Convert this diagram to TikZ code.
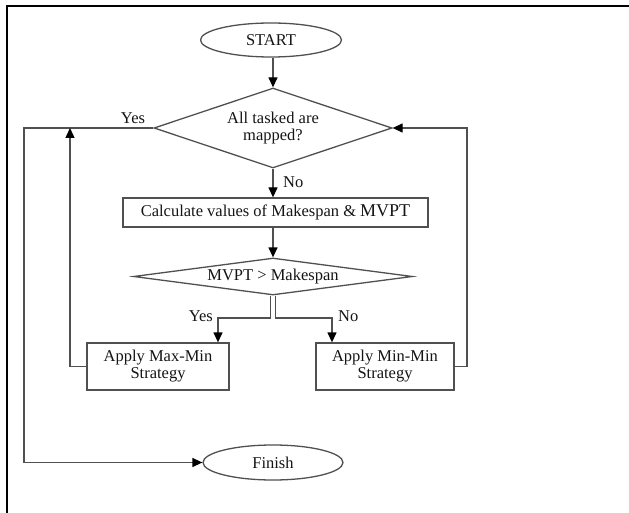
\documentclass[tikz,border=0pt]{standalone}
\usepackage{fontspec}
\setmainfont{Liberation Serif}
\usetikzlibrary{shapes.geometric,arrows.meta}
\definecolor{linegray}{HTML}{505050}
\definecolor{textgray}{HTML}{141414}
\begin{document}
\begin{tikzpicture}[x=1pt,y=-1pt,
  every node/.style={font=\fontsize{16.5}{17}\selectfont, text=textgray},
  flow/.style={draw=linegray, line width=1.3pt},
  arr/.style={flow, -{Triangle[length=10pt,width=9pt,color=black]}},
  term/.style={flow, ellipse, inner sep=0pt, minimum width=141pt, minimum height=34pt},
  stepbox/.style={flow, rectangle, inner sep=0pt, align=center},
  decision/.style={flow, diamond, inner sep=0pt, align=center},
  lbl/.style={inner sep=0pt}]
  % canvas and page frame
  \useasboundingbox (0,0) rectangle (629,513);
  \draw[black, line width=2pt] (6.5,513) -- (6.5,6.5) -- (629,6.5);

  % nodes
  \node[term] (start) at (271,40) {START};
  \node[decision, aspect=2.975, minimum width=238pt, minimum height=80pt] (d1) at (273,128) {All tasked are\\mapped?};
  \node[stepbox, minimum width=305pt, minimum height=29pt] (calc) at (275.5,212.5) {Calculate values of Makespan \& {\fontsize{18}{18}\selectfont MVPT}};
  \node[decision, aspect=7.5, minimum width=279pt, minimum height=37pt] (d2) at (273,276.5) {MVPT > Makespan};
  \node[stepbox, minimum width=142pt, minimum height=47pt] (maxmin) at (158,366.5) {Apply Max-Min\\Strategy};
  \node[stepbox, minimum width=138pt, minimum height=47pt] (minmin) at (385,366.5) {Apply Min-Min\\Strategy};
  \node[term, minimum width=140pt, minimum height=35pt] (finish) at (273,462.5) {Finish};

  % routing points
  \coordinate (yesL) at (24,128);
  \coordinate (backL) at (70,128);
  \coordinate (backR) at (467,128);
  \coordinate (splitY) at (0,318);

  % connectors
  \draw[arr] (start.south -| d1.north) -- (d1.north);
  \draw[arr] (d1.west) -- (yesL) |- (finish.west);
  \node[lbl, anchor=south] (yes1) at (133,124) {Yes};
  \draw[arr] (d1.south) -- (d1.south |- calc.north);
  \node[lbl, anchor=west] (no1) at (283,182) {No};
  \draw[arr] (d1.south |- calc.south) -- (d2.north);
  \draw[arr] ([xshift=-2.5pt]d2.south) |- ([xshift=60pt]maxmin.north |- splitY) -- ([xshift=60pt]maxmin.north);
  \draw[arr] ([xshift=2.5pt]d2.south) |- ([xshift=-53pt]minmin.north |- splitY) -- ([xshift=-53pt]minmin.north);
  \node[lbl, anchor=east] (yes2) at (213,316) {Yes};
  \node[lbl, anchor=west] (no2) at (338,316) {No};
  \draw[arr] (maxmin.west) -| (backL);
  \draw[arr] (minmin.east) -| (backR) -- (d1.east);
\end{tikzpicture}
\end{document}
